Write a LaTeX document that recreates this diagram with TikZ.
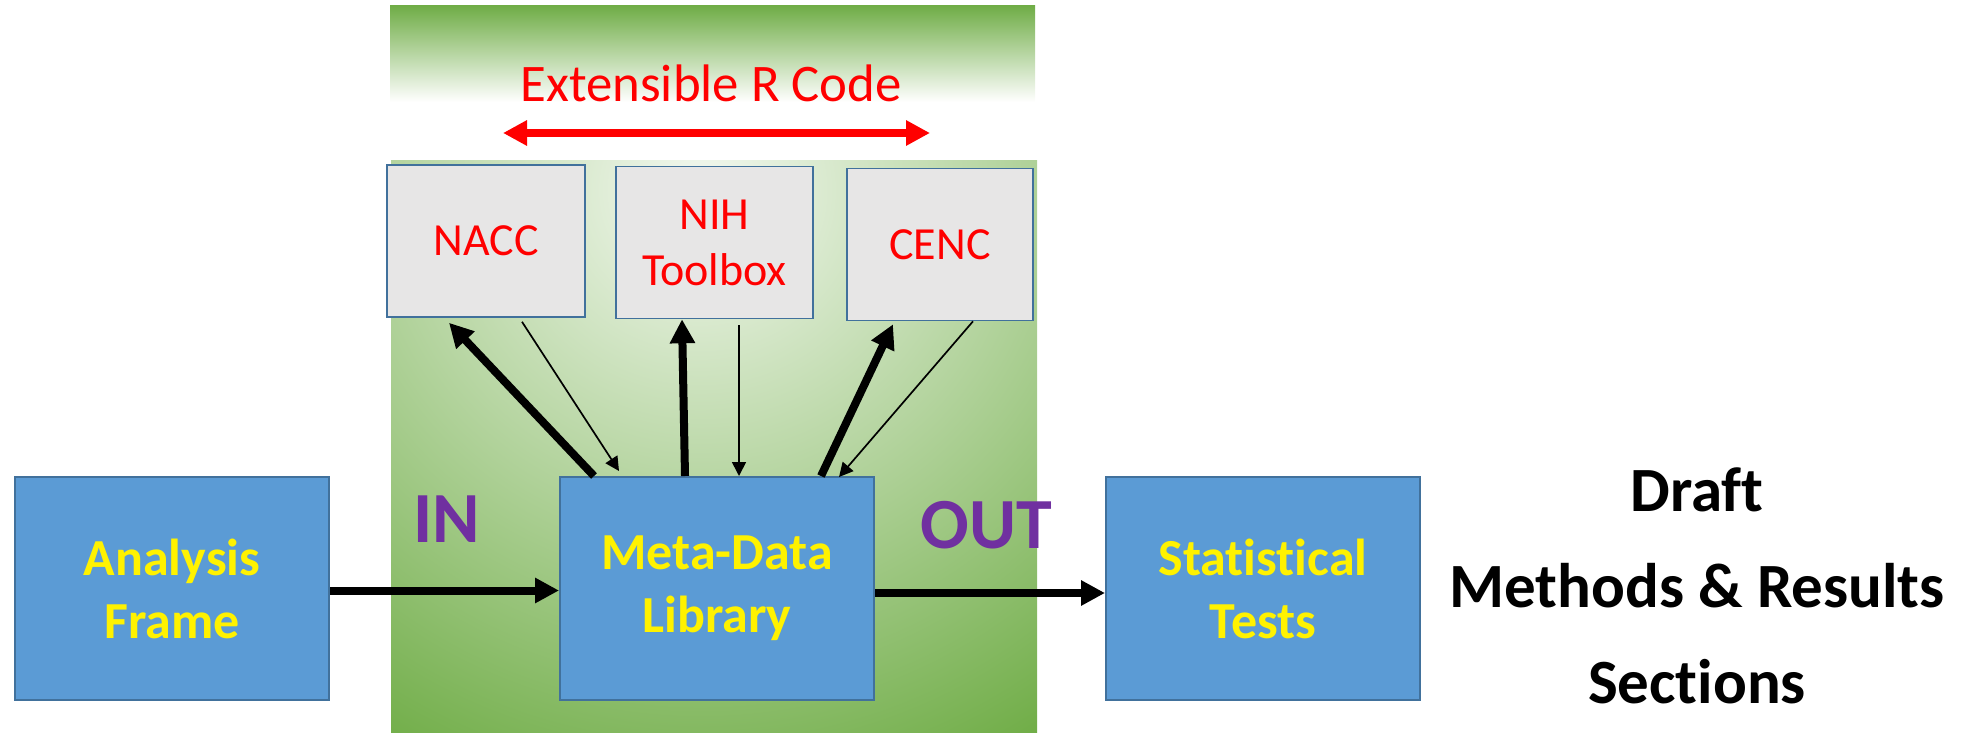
\documentclass[tikz,border=0pt]{standalone}
\usepackage{fontspec}
\setmainfont{Carlito}[Ligatures=NoCommon]
\usetikzlibrary{positioning, arrows.meta}

\definecolor{leafgreen}{HTML}{70AD47}
\definecolor{boxblue}{HTML}{5B9BD5}
\definecolor{edgeblue}{HTML}{41719C}
\definecolor{srcgray}{HTML}{E7E6E6}
\definecolor{tagpurple}{HTML}{7030A0}

\begin{document}
\begin{tikzpicture}[x=0.5pt, y=-0.5pt,  % one unit = one pixel of the layout, y runs down
    stage/.style={draw=edgeblue, line width=1pt, fill=boxblue, minimum width=157pt, minimum height=111.5pt,
        inner sep=0pt, align=center, text=yellow, font=\fontsize{26}{31.5}\selectfont\bfseries},
    source/.style={draw=edgeblue, line width=0.8pt, fill=srcgray, minimum height=76pt,
        inner sep=0pt, align=center, text=red, font=\fontsize{23}{28}\selectfont},
    tag/.style={text=tagpurple, font=\fontsize{36}{36}\selectfont\bfseries},
    fat/.style={line width=4pt, -{Triangle[length=12pt, width=12pt]}},
    slim/.style={line width=0.85pt, -{Triangle[length=7pt, width=7pt]}}
]
    \useasboundingbox (0,0) rectangle (1964,733);  % page size

    % green backdrop
    \shade[top color=leafgreen, bottom color=white] (390,6) rectangle (1035,102);
    \begin{scope}
        \clip (391,160) rectangle (1037,733);
        \fill[leafgreen] (391,160) rectangle (1037,733);
        \shade[inner color=leafgreen!8, outer color=leafgreen] (700,190) circle (320pt);
    \end{scope}

    % main chain
    \node[stage] (meta) at (717,588.5) {Meta-Data\\Library};
    \node[stage, left=114.5pt of meta] (frame) {Analysis\\Frame};
    \node[stage, right=115pt of meta] (tests) {Statistical\\Tests};

    % code modules
    \node[source, minimum width=99pt] (nacc) at (486,241) {NACC};
    \node[source, minimum width=98.5pt] (nih) at (714.5,242.5) {NIH\\Toolbox};
    \node[source, minimum width=93pt] (cenc) at (940,244.5) {CENC};

    \node[text=red, font=\fontsize{26.4}{30}\selectfont] (rcode) at (711,83) {Extensible R Code};
    \coordinate (codeL) at (503,133);
    \coordinate (codeR) at (930,133);
    \draw[red, line width=4pt, {Triangle[length=12pt, width=12pt]}-{Triangle[length=12pt, width=12pt]}] (codeL) -- (codeR);

    \node[tag] (in) at (447,519) {IN};
    \node[tag] (out) at (986,525) {OUT};
    \node[align=center, font=\fontsize{31.5}{48}\selectfont\bfseries] (draft) at (1697,586) {Draft\\Methods \& Results\\Sections};

    % connectors
    \draw[fat] ([shift={(0,2)}]frame.east) -- ([shift={(0,2)}]meta.west);
    \draw[fat] ([shift={(0,4.5)}]meta.east) -- ([shift={(0,4.5)}]tests.west);

    \draw[fat] ([shift={(-123,0)}]meta.north) -- ([shift={(-37,5)}]nacc.south);
    \draw[fat] ([shift={(-32,0)}]meta.north) -- ([shift={(-32.5,0)}]nih.south);
    \draw[fat] ([shift={(104,0)}]meta.north) -- ([shift={(-47,3)}]cenc.south);

    \draw[slim] ([shift={(36,4)}]nacc.south) -- ([shift={(-98,-5)}]meta.north);
    \draw[slim] ([shift={(24.5,6)}]nih.south) -- ([shift={(22,0)}]meta.north);
    \draw[slim] ([shift={(33,0)}]cenc.south) -- ([shift={(122,1)}]meta.north);
\end{tikzpicture}
\end{document}
